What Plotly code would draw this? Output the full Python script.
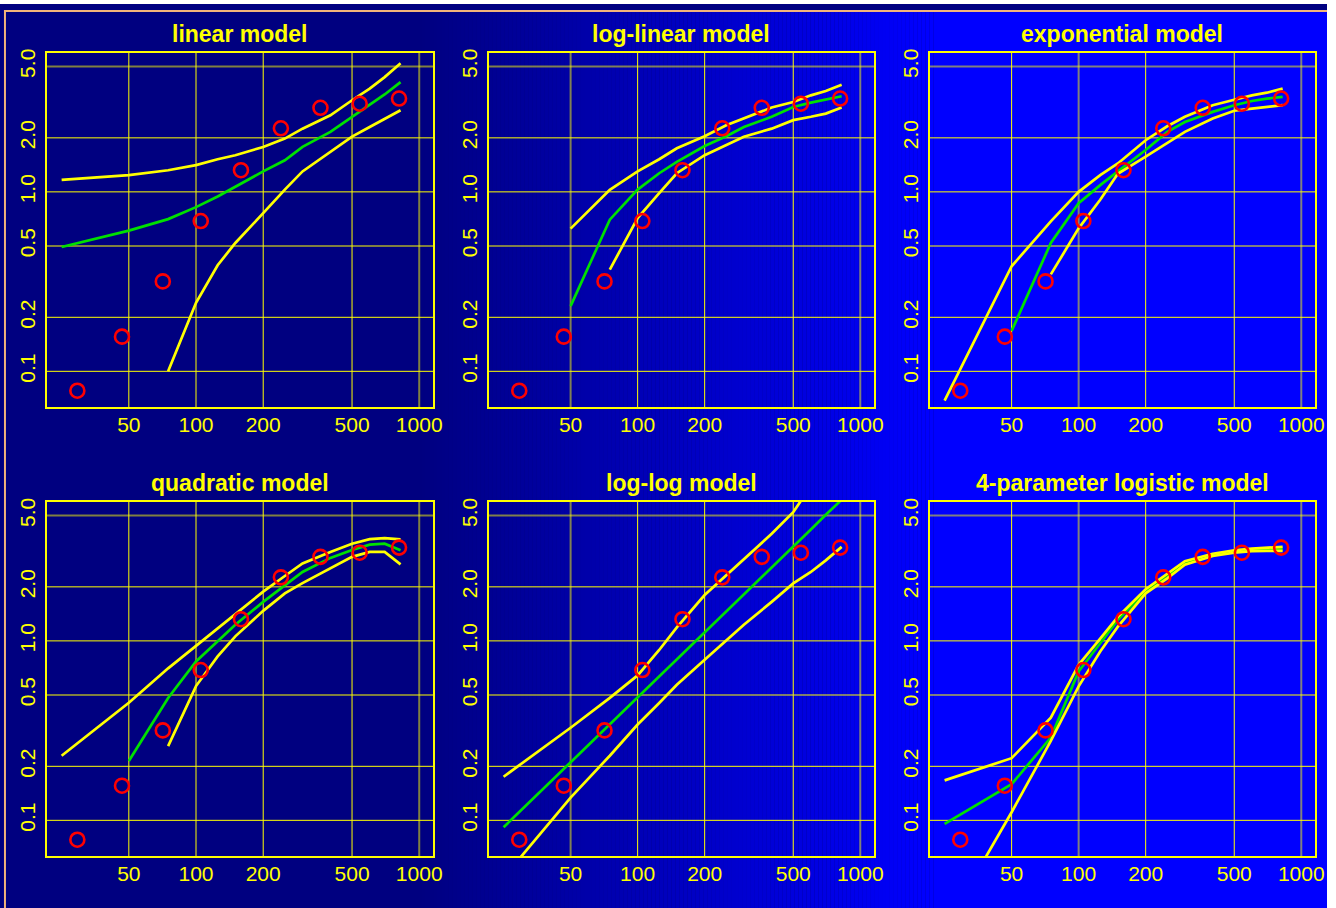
import plotly.graph_objects as go

# ---------------- data ----------------
x_obs = [29.4, 46.6, 71, 105, 159, 240, 361, 541, 812]
y_obs = [0.078, 0.156, 0.317, 0.688, 1.32, 2.26, 2.94, 3.10, 3.31]

x_curve = [25, 50, 75, 100, 125, 150, 200, 250, 300, 400, 500, 600, 700, 825]
x_from50 = x_curve[1:]
x_from75 = x_curve[2:]

titles = ["linear model", "log-linear model", "exponential model",
          "quadratic model", "log-log model", "4-parameter logistic model"]

# linear model
lin_upper = [1.166, 1.24, 1.32, 1.41, 1.52, 1.60, 1.78, 1.98, 2.25, 2.67, 3.24, 3.76, 4.36, 5.21]
lin_fit = [0.493, 0.608, 0.705, 0.822, 0.942, 1.07, 1.30, 1.50, 1.78, 2.16, 2.62, 3.04, 3.49, 4.09]
lin_lower = [0.10, 0.241, 0.39, 0.519, 0.761, 1.03, 1.30, 1.67, 2.03, 2.30, 2.56, 2.85]

# log-linear model
loglin_upper = [0.624, 1.026, 1.30, 1.52, 1.75, 2.04, 2.35, 2.56, 2.95, 3.17, 3.45, 3.65, 3.95]
loglin_fit = [0.231, 0.70, 1.03, 1.27, 1.47, 1.80, 2.04, 2.30, 2.62, 2.97, 3.14, 3.28, 3.41]
loglin_lower = [0.369, 0.714, 0.983, 1.27, 1.60, 1.82, 2.03, 2.25, 2.51, 2.62, 2.73, 2.95]

# exponential model
exp_upper = [0.0687, 0.385, 0.685, 1.00, 1.24, 1.44, 1.94, 2.32, 2.62, 3.04, 3.26, 3.45, 3.57, 3.76]
exp_fit = [0.168, 0.519, 0.865, 1.09, 1.30, 1.71, 2.16, 2.45, 2.79, 3.04, 3.21, 3.31, 3.38]
exp_lower = [0.347, 0.626, 0.903, 1.26, 1.57, 1.86, 2.16, 2.56, 2.83, 2.91, 2.97, 3.04]

# quadratic model
quad_upper = [0.229, 0.452, 0.703, 0.938, 1.18, 1.41, 1.88, 2.30, 2.70, 3.13, 3.48, 3.69, 3.74, 3.68]
quad_fit = [0.214, 0.481, 0.768, 0.99, 1.23, 1.65, 2.04, 2.42, 2.90, 3.21, 3.44, 3.48, 3.20]
quad_lower = [0.259, 0.56, 0.819, 1.06, 1.47, 1.84, 2.10, 2.53, 2.94, 3.13, 3.13, 2.67]

# log-log model
ll_upper = [0.175, 0.328, 0.481, 0.642, 0.89, 1.19, 1.80, 2.32, 2.85, 3.95, 5.21, 7.4, 9.9, 13.2]
ll_fit = [0.0915, 0.21, 0.343, 0.484, 0.63, 0.789, 1.115, 1.46, 1.82, 2.56, 3.36, 4.18, 5.04, 6.12]
ll_lower = [0.048, 0.134, 0.229, 0.342, 0.451, 0.570, 0.785, 1.0, 1.23, 1.65, 2.09, 2.42, 2.81, 3.34]

# 4-parameter logistic model
fpl_upper = [0.167, 0.222, 0.373, 0.736, 1.03, 1.36, 1.94, 2.37, 2.78, 3.06, 3.20, 3.27, 3.29, 3.34]
fpl_fit = [0.0955, 0.159, 0.289, 0.676, 0.97, 1.31, 1.89, 2.30, 2.73, 3.02, 3.13, 3.20, 3.22, 3.24]
fpl_lower = [0.025, 0.111, 0.277, 0.558, 0.873, 1.20, 1.84, 2.23, 2.66, 2.97, 3.10, 3.16, 3.17, 3.17]

x_ticks = [50, 100, 200, 500, 1000]
x_ticktext = ["50", "100", "200", "500", "1000"]
y_ticks = [0.1, 0.2, 0.5, 1, 2, 5]
y_ticktext = ["0.1", "0.2", "0.5", "1.0", "2.0", "5.0"]

panels = [
    ((x_curve, lin_fit), (x_curve, lin_upper), (x_from75, lin_lower)),
    ((x_from50, loglin_fit), (x_from50, loglin_upper), (x_from75, loglin_lower)),
    ((x_from50, exp_fit), (x_curve, exp_upper), (x_from75, exp_lower)),
    ((x_from50, quad_fit), (x_curve, quad_upper), (x_from75, quad_lower)),
    ((x_curve, ll_fit), (x_curve, ll_upper), (x_curve, ll_lower)),
    ((x_curve, fpl_fit), (x_curve, fpl_upper), (x_curve, fpl_lower)),
]

# ---------------- layout geometry ----------------
W, H = 1336, 908
col_px = [(47, 436), (492, 880), (936, 1324)]
row_px = [(49, 405), (500, 856)]
XR = [1.331, 3.062]
YR = [-1.2, 0.775]

YELLOW = "#FFFF00"
GREEN = "#00E000"
RED = "#FF0000"
DIM = "rgba(255,255,0,0.5)"
FONT = "Liberation Sans, Arial, Helvetica, sans-serif"

fig = go.Figure()
shapes = []
annotations = []

# background: dark strip, gradient, tan frame lines
NAVY = 128
G0, G1 = 420, 940
shapes.append(dict(type="rect", xref="paper", yref="paper", x0=0, x1=1, y0=0, y1=1,
                   fillcolor="rgb(0,0,%d)" % NAVY, line_width=0, layer="below"))
step = 4
for px in range(G0, G1, step):
    t = (px + step / 2 - G0) / (G1 - G0)
    b = int(round(NAVY + (255 - NAVY) * t))
    shapes.append(dict(type="rect", xref="paper", yref="paper",
                       x0=px / W, x1=(px + step) / W, y0=0, y1=1 - 8 / H,
                       fillcolor="rgb(0,0,%d)" % b, line_width=0, layer="below"))
shapes.append(dict(type="rect", xref="paper", yref="paper", x0=G1 / W, x1=1,
                   y0=0, y1=1 - 8 / H, fillcolor="rgb(0,0,255)", line_width=0, layer="below"))
shapes.append(dict(type="rect", xref="paper", yref="paper", x0=4 / W, x1=1,
                   y0=1 - 8 / H, y1=1 - 6 / H, fillcolor="#F2B47A", line_width=0, layer="below"))
shapes.append(dict(type="rect", xref="paper", yref="paper", x0=4 / W, x1=6 / W,
                   y0=0, y1=1 - 6 / H, fillcolor="#F2B47A", line_width=0, layer="below"))

dim_vertical = [{100, 1000}, {50, 1000}, {100, 1000}]
dim_horizontal = {0.5, 5}

for i in range(6):
    r, c = divmod(i, 3)
    n = "" if i == 0 else str(i + 1)
    xa, ya = "x" + n, "y" + n
    (xf, yf), (xu, yu), (xl, yl) = panels[i]
    fig.add_trace(go.Scatter(x=xf, y=yf, mode="lines", line=dict(color=GREEN, width=2.7),
                             xaxis=xa, yaxis=ya, showlegend=False, hoverinfo="skip"))
    fig.add_trace(go.Scatter(x=xu, y=yu, mode="lines", line=dict(color=YELLOW, width=2.7),
                             xaxis=xa, yaxis=ya, showlegend=False, hoverinfo="skip"))
    fig.add_trace(go.Scatter(x=xl, y=yl, mode="lines", line=dict(color=YELLOW, width=2.7),
                             xaxis=xa, yaxis=ya, showlegend=False, hoverinfo="skip"))
    fig.add_trace(go.Scatter(x=x_obs, y=y_obs, mode="markers",
                             marker=dict(symbol="circle-open", size=14, color=RED,
                                         line=dict(color=RED, width=2.6)),
                             xaxis=xa, yaxis=ya, showlegend=False, cliponaxis=False))

    x0, x1 = col_px[c]
    y0, y1 = row_px[r]
    common = dict(type="log", showgrid=False, zeroline=False, showline=True, mirror=True,
                  linecolor=YELLOW, linewidth=2, ticks="", ticklen=0, fixedrange=True,
                  tickfont=dict(family=FONT, size=21, color=YELLOW))
    fig.layout["xaxis" + n] = dict(common, domain=[x0 / W, x1 / W], range=XR,
                                   anchor=ya, tickvals=x_ticks, ticktext=x_ticktext,
                                   ticklabelstandoff=-2)
    fig.layout["yaxis" + n] = dict(common, domain=[1 - y1 / H, 1 - y0 / H], range=YR,
                                   anchor=xa, tickvals=y_ticks, ticktext=y_ticktext,
                                   tickangle=-90, ticklabelstandoff=1)
    for v in x_ticks:
        dim = v in dim_vertical[c]
        shapes.append(dict(type="line", xref=xa, yref=ya + " domain", x0=v, x1=v, y0=0, y1=1,
                           line=dict(color=DIM if dim else YELLOW, width=2 if dim else 1),
                           layer="below"))
    for v in y_ticks:
        dim = v in dim_horizontal
        shapes.append(dict(type="line", xref=xa + " domain", yref=ya, x0=0, x1=1, y0=v, y1=v,
                           line=dict(color=DIM if dim else YELLOW, width=2 if dim else 1),
                           layer="below"))
    annotations.append(dict(text="<b>%s</b>" % titles[i], xref="paper", yref="paper",
                            x=(x0 + x1) / 2 / W, y=1 - (y0 - 19) / H,
                            xanchor="center", yanchor="middle", showarrow=False,
                            font=dict(family=FONT, size=23, color=YELLOW)))

fig.update_layout(width=W, height=H, margin=dict(l=0, r=0, t=0, b=0),
                  paper_bgcolor="rgba(0,0,0,0)", plot_bgcolor="rgba(0,0,0,0)",
                  shapes=shapes, annotations=annotations, showlegend=False)

fig.write_html("out.html", config={"displayModeBar": False},
               post_script="document.body.style.margin='0px';document.body.style.overflow='hidden';")
